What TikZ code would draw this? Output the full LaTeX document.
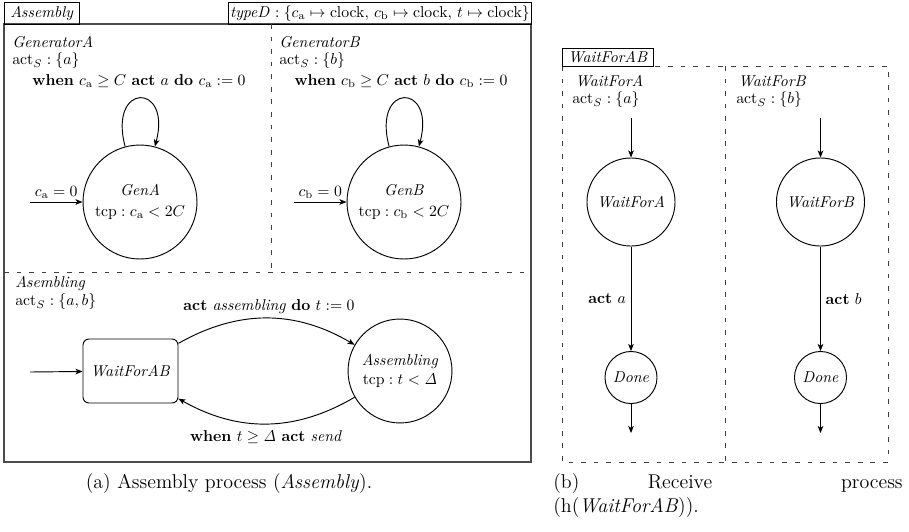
\documentclass[tikz,border=0pt]{standalone}
\usetikzlibrary{arrows.meta}
\begin{document}
\begin{tikzpicture}[x=0.636pt,y=-0.636pt,
  frame/.style={draw=black!70, line width=0.9pt},
  tagbox/.style={draw, line width=0.5pt, inner sep=0pt, anchor=north west},
  divider/.style={draw=black!75, line width=0.5pt, dash pattern=on 3pt off 5pt},
  state/.style={circle, draw, line width=0.6pt, inner sep=0pt, align=center},
  locbox/.style={draw, rounded corners=3.8pt, line width=0.6pt, inner sep=0pt},
  arr/.style={-{Stealth[length=4.5pt,width=3.6pt,inset=1.2pt]}, line width=0.6pt},
  lbl/.style={anchor=west, inner sep=0pt},
  txt/.style={inner sep=0pt},
  captext/.style={font=\fontsize{12.7}{15.5}\selectfont, inner sep=0pt}]
\useasboundingbox (0,0) rectangle (909,531);

% ---------- (a) the Assembly process ----------
\draw[frame] (4,24) rectangle (531,462);
\node[tagbox, minimum width=47.7pt, minimum height=14pt] (asmtag) at (4,2) {\textit{Assembly}};
\node[tagbox, minimum width=192.7pt, minimum height=14pt] (typetag) at (228,2)
  {$\mathit{typeD}: \{c_{\mathrm{a}}\mapsto\mathrm{clock},\, c_{\mathrm{b}}\mapsto\mathrm{clock},\, t\mapsto\mathrm{clock}\}$};
\draw[divider] (4,272) -- (531,272);
\draw[divider] (271,24) -- (271,272);

% GeneratorA
\node[lbl] (genAname) at (12,42) {\textit{GeneratorA}};
\node[lbl] (genAact) at (12,61) {$\mathrm{act}_S : \{a\}$};
\node[state, minimum size=72.5pt] (GenA) at (140,202) {\textit{GenA}\\[1pt]$\mathrm{tcp}: c_{\mathrm{a}} < 2C$};
\coordinate (GenAin) at (30,202);
\draw[arr] (GenAin) -- node[midway, above, inner sep=2pt] {$c_{\mathrm{a}} = 0$} (GenA);
\draw[arr] (GenA.105) .. controls +(105:42.4pt) and +(75:42.4pt) .. (GenA.75);
\node[txt] (loopA) at (139,81) {\textbf{when} $c_{\mathrm{a}} \geq C$ \textbf{act} $a$ \textbf{do} $c_{\mathrm{a}} := 0$};

% GeneratorB
\node[lbl] (genBname) at (279,42) {\textit{GeneratorB}};
\node[lbl] (genBact) at (279,61) {$\mathrm{act}_S : \{b\}$};
\node[state, minimum size=72.5pt] (GenB) at (404,202) {\textit{GenB}\\[1pt]$\mathrm{tcp}: c_{\mathrm{b}} < 2C$};
\coordinate (GenBin) at (294,202);
\draw[arr] (GenBin) -- node[midway, above, inner sep=2pt] {$c_{\mathrm{b}} = 0$} (GenB);
\draw[arr] (GenB.105) .. controls +(105:42.4pt) and +(75:42.4pt) .. (GenB.75);
\node[txt] (loopB) at (401,81) {\textbf{when} $c_{\mathrm{b}} \geq C$ \textbf{act} $b$ \textbf{do} $c_{\mathrm{b}} := 0$};

% Asembling
\node[lbl] (asmname) at (15,283) {\textit{Asembling}};
\node[lbl] (asmact) at (15,302) {$\mathrm{act}_S : \{a, b\}$};
\node[locbox, minimum width=60.4pt, minimum height=40.7pt] (WAB) at (130.5,371) {\textit{WaitForAB}};
\node[state, minimum size=66.1pt] (Asm) at (400,371) {\textit{Assembling}\\ $\mathrm{tcp}: t < \mathit{\Delta}$};
\coordinate (WABin) at (30,372);
\draw[arr] (WABin) -- (WAB);
\draw[arr] (WAB) to[bend left=30] (Asm);
\draw[arr] (Asm) to[bend left=30] (WAB);
\node[txt] (goLbl) at (269,307) {\textbf{act} \textit{assembling} \textbf{do} $t := 0$};
\node[txt] (backLbl) at (266,437) {\textbf{when} $t \geq \mathit{\Delta}$ \textbf{act} \textit{send}};

\node[captext, anchor=base] (capA) at (229,488) {(a) Assembly process (\textit{Assembly}).};

% ---------- (b) the receive process ----------
\draw[divider] (562,66) rectangle (888,462);
\draw[divider] (725,66) -- (725,462);
\node[tagbox, fill=white, minimum width=57.9pt, minimum height=11.4pt] (wabtag) at (562,48) {\textit{WaitForAB}};

\node[lbl] (wAname) at (575,81) {\textit{WaitForA}};
\node[lbl] (wAact) at (572,100) {$\mathrm{act}_S : \{a\}$};
\node[lbl] (wBname) at (738,81) {\textit{WaitForB}};
\node[lbl] (wBact) at (736,100) {$\mathrm{act}_S : \{b\}$};

\node[state, minimum size=56pt] (WA) at (631,202) {\textit{WaitForA}};
\node[state, minimum size=56pt] (WB) at (820.5,202) {\textit{WaitForB}};
\node[state, minimum size=33.1pt] (DA) at (631,377.5) {\textit{Done}};
\node[state, minimum size=33.1pt] (DB) at (820.5,377.5) {\textit{Done}};

\coordinate (WAin) at (631,118);
\coordinate (WBin) at (820.5,118);
\coordinate (DAout) at (631,433);
\coordinate (DBout) at (820.5,433);
\draw[arr] (WAin) -- (WA);
\draw[arr] (WBin) -- (WB);
\draw[arr] (WA) -- node[midway, left, inner sep=3pt] {\textbf{act} $a$} (DA);
\draw[arr] (WB) -- node[midway, right, inner sep=3pt] {\textbf{act} $b$} (DB);
\draw[arr] (DA) -- (DAout);
\draw[arr] (DB) -- (DBout);

\node[captext, anchor=base west] (capB1) at (553,488) {(b)};
\node[captext, anchor=base] (capB2) at (680,488) {Receive};
\node[captext, anchor=base east] (capB3) at (903,488) {process};
\node[captext, anchor=base west] (capB4) at (553,512) {(h(\textit{WaitForAB})).};
\end{tikzpicture}
\end{document}
